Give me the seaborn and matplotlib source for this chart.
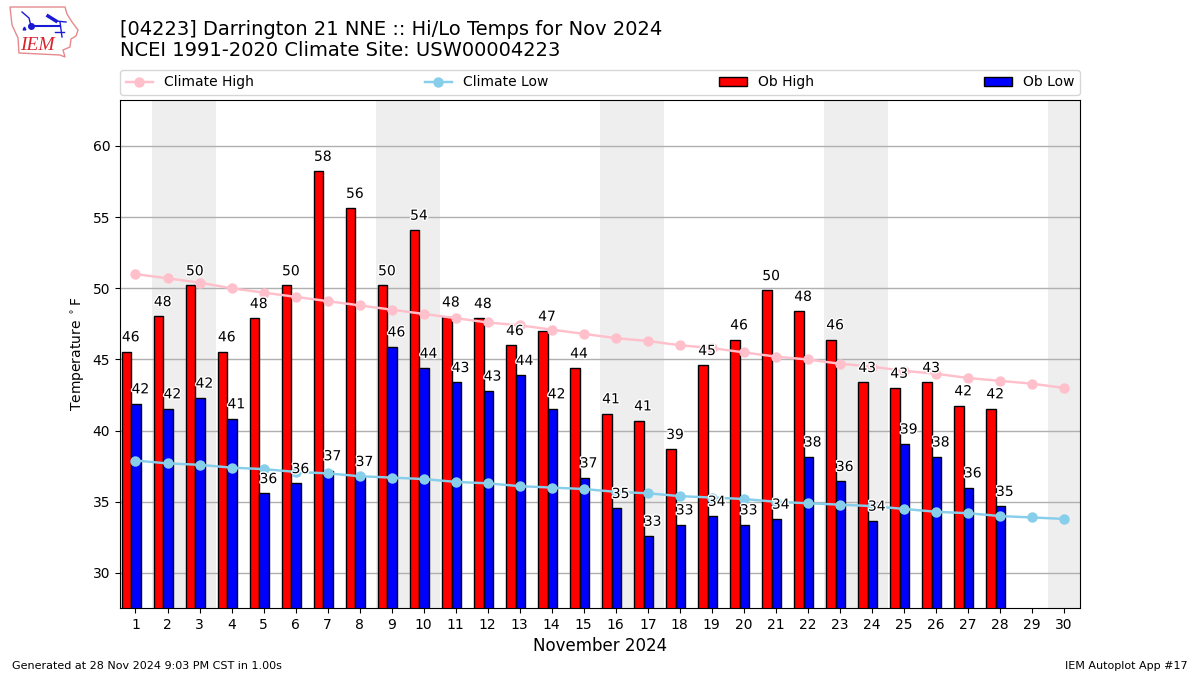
import pandas as pd
import seaborn as sns
import matplotlib.pyplot as plt
import matplotlib.patheffects as pe
from matplotlib.patches import Patch, Polygon
from matplotlib.lines import Line2D

# values
days = list(range(1, 31))
ob_high = [45.56, 48.03, 50.2, 45.56, 47.9, 50.2, 58.24, 55.64, 50.2, 54.1,
           48.0, 47.9, 46.0, 47.0, 44.4, 41.2, 40.7, 38.7, 44.6, 46.4,
           49.86, 48.4, 46.4, 43.4, 43.0, 43.4, 41.76, 41.55, None, None]
ob_low = [41.9, 41.55, 42.3, 40.85, 35.6, 36.3, 37.2, 36.8, 45.9, 44.4,
          43.4, 42.8, 43.9, 41.55, 36.7, 34.55, 32.6, 33.4, 34.0, 33.4,
          33.8, 38.17, 36.45, 33.66, 39.08, 38.17, 36.0, 34.7, None, None]
clim_high = [51.0, 50.7, 50.4, 50.0, 49.7, 49.4, 49.1, 48.8, 48.5, 48.2,
             47.9, 47.6, 47.4, 47.1, 46.8, 46.5, 46.3, 46.0, 45.8, 45.5,
             45.2, 45.0, 44.7, 44.5, 44.2, 44.0, 43.7, 43.5, 43.3, 43.0]
clim_low = [37.9, 37.7, 37.6, 37.4, 37.3, 37.1, 37.0, 36.8, 36.7, 36.6,
            36.4, 36.3, 36.1, 36.0, 35.9, 35.7, 35.6, 35.4, 35.3, 35.2,
            35.0, 34.9, 34.8, 34.7, 34.5, 34.3, 34.2, 34.0, 33.9, 33.8]
weekends = [(1.5, 3.5), (8.5, 10.5), (15.5, 17.5), (22.5, 24.5), (29.5, 30.5)]
y_ticks = [30, 35, 40, 45, 50, 55, 60]

# long table for seaborn, bar pairs sit a little left of the day tick
obs = pd.DataFrame({'day': days * 2,
                    'temp': ob_high + ob_low,
                    'series': ['Ob High'] * 30 + ['Ob Low'] * 30})
obs['temp'] = pd.to_numeric(obs['temp'])
obs['pos'] = obs['day'] - 0.13
clim = pd.DataFrame({'day': days, 'high': clim_high, 'low': clim_low})

fig = plt.figure(figsize=(12, 6.75), dpi=100)
ax = fig.add_axes([120 / 1200, 1 - 608 / 675, 960 / 1200, 508 / 675])

for start, end in weekends:
    ax.axvspan(start, end, color='#eeeeee', lw=0, zorder=0)

sns.barplot(data=obs, x='pos', y='temp', hue='series', native_scale=True,
            palette={'Ob High': 'red', 'Ob Low': 'blue'}, width=0.6, gap=0,
            saturation=1, edgecolor='black', linewidth=1, legend=False, ax=ax)
sns.lineplot(data=clim, x='day', y='high', color='pink', marker='o', ms=7.5,
             mec='pink', mew=0, lw=1.75, ax=ax, zorder=3)
sns.lineplot(data=clim, x='day', y='low', color='skyblue', marker='o', ms=7.5,
             mec='skyblue', mew=0, lw=1.75, ax=ax, zorder=3)

# value labels with a white halo
halo = [pe.withStroke(linewidth=2, foreground='white')]
for day, hi, lo in zip(days, ob_high, ob_low):
    if hi is None:
        continue
    ax.text(day - 0.15, hi + 1, f'{hi:.0f}', ha='center', va='center',
            fontsize=10, zorder=5, path_effects=halo)
    ax.text(day + 0.15, lo + 1, f'{lo:.0f}', ha='center', va='center',
            fontsize=10, zorder=5, path_effects=halo)

ax.set_xlim(0.516, 30.5)
ax.set_ylim(27.54, 63.23)
ax.set_xticks(days)
ax.set_xticklabels([str(d) for d in days])
ax.set_yticks(y_ticks)
ax.grid(axis='y', color='#b0b0b0', lw=1)
ax.set_axisbelow(True)
ax.set_xlabel('November 2024', fontsize=12)
ax.set_ylabel(r'Temperature $^\circ$F', fontsize=10)

handles = [
    Line2D([], [], color='pink', marker='o', ms=7.5, mew=0, lw=1.75, label='Climate High'),
    Line2D([], [], color='skyblue', marker='o', ms=7.5, mew=0, lw=1.75, label='Climate Low'),
    Patch(facecolor='red', edgecolor='black', label='Ob High'),
    Patch(facecolor='blue', edgecolor='black', label='Ob Low'),
]
ax.legend(handles=handles, loc='lower left', ncol=4, mode='expand',
          bbox_to_anchor=(0, 1.01, 1, 0.05), borderaxespad=0, fontsize=10)

fig.text(120 / 1200, 1 - 60 / 675,
         '[04223] Darrington 21 NNE :: Hi/Lo Temps for Nov 2024\n'
         'NCEI 1991-2020 Climate Site: USW00004223',
         fontsize=14, ha='left', va='bottom', linespacing=1.15)
fig.text(12 / 1200, 1 - 666 / 675, 'Generated at 28 Nov 2024 9:03 PM CST in 1.00s',
         fontsize=8, ha='left', va='center')
fig.text(1188 / 1200, 1 - 666 / 675, 'IEM Autoplot App #17',
         fontsize=8, ha='right', va='center')

# rough IEM logo, in pixel coordinates of the reference
logo = fig.add_axes([0, 1 - 60 / 675, 80 / 1200, 60 / 675])
logo.set_xlim(0, 80)
logo.set_ylim(60, 0)
logo.axis('off')
logo.add_patch(Polygon([(10, 7), (65, 7), (67, 14), (72, 22), (78, 30), (76, 36),
                        (71, 39), (70, 47), (63, 50), (65, 57), (60, 55), (19, 53),
                        (18, 38), (12, 25)], closed=True, fill=False, ec='#e58a8f', lw=1))
logo.plot([31, 60], [26, 26], color='#1a1ad6', lw=1.5)
logo.plot([31], [26], 'o', color='#1a1ad6', ms=4)
logo.plot([48, 56], [16, 21], color='#1a1ad6', lw=2.5)
logo.plot([56, 66], [21, 22], color='#1a1ad6', lw=1)
logo.plot([22, 29, 31], [12, 18, 26], color='#1a1ad6', lw=1)
logo.plot([60, 62], [22, 37], color='#1a1ad6', lw=1)
logo.plot([55, 64], [32, 32], color='#1a1ad6', lw=1)
logo.plot([24], [28], '^', color='#1a1ad6', ms=2)
logo.text(37.5, 45, 'IEM', color='#d9232e', fontsize=14, style='italic',
          family='Liberation Serif', ha='center', va='center')

plt.savefig('out.png', dpi=100)
